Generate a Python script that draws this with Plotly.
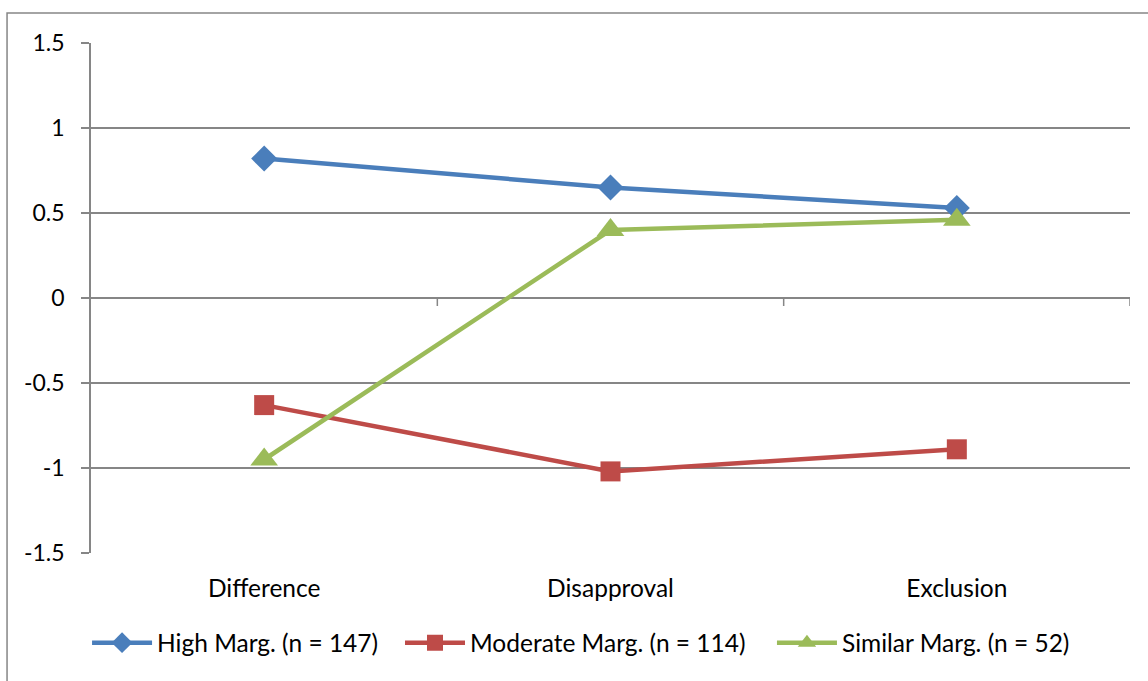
import plotly.graph_objects as go

# Category labels along the x axis
categories = ["Difference", "Disapproval", "Exclusion"]

# Mean scores per marginalization group
high_marg = [0.82, 0.65, 0.53]
moderate_marg = [-0.63, -1.02, -0.89]
similar_marg = [-0.95, 0.40, 0.46]

series_names = [
    "High Marg. (n = 147)",
    "Moderate Marg. (n = 114)",
    "Similar Marg. (n = 52)",
]

y_ticks = [-1.5, -1, -0.5, 0, 0.5, 1, 1.5]

GRID = "#868686"
FONT = "Lato, 'Open Sans', sans-serif"

fig = go.Figure()
styles = [
    (high_marg, series_names[0], "#4A7EBB", "diamond", 20, "legend"),
    (moderate_marg, series_names[1], "#BE4B48", "square", 20, "legend2"),
    (similar_marg, series_names[2], "#9BBB59", "triangle-up", 24, "legend3"),
]
for values, name, color, symbol, size, leg in styles:
    fig.add_trace(go.Scatter(
        x=categories,
        y=values,
        name=name,
        mode="lines+markers",
        line=dict(color=color, width=4.5),
        marker=dict(symbol=symbol, size=size, color=color),
        legend=leg,
    ))

# Category separator ticks hanging below the zero line
for xpos in [0.5, 1.5, 2.5]:
    fig.add_shape(
        type="line", xref="x", yref="y",
        x0=xpos, x1=xpos, ysizemode="pixel", yanchor=0, y0=0, y1=-8,
        line=dict(color=GRID, width=1.5),
    )

# Outer chart frame
fig.add_shape(
    type="rect", xref="paper", yref="paper",
    x0=-0.0808, x1=1.2, y0=-0.5, y1=1.0588,
    line=dict(color=GRID, width=1.5), fillcolor="rgba(0,0,0,0)",
    layer="below",
)


def legend_box(xpos):
    return dict(
        orientation="h",
        x=xpos, xanchor="left",
        y=-0.176, yanchor="middle",
        font=dict(size=24.5),
        itemwidth=60,
        bgcolor="rgba(0,0,0,0)",
    )


fig.update_layout(
    width=1148,
    height=681,
    margin=dict(l=91, r=18, t=43, b=128),
    paper_bgcolor="white",
    plot_bgcolor="white",
    font=dict(family=FONT, size=24, color="#000000"),
    showlegend=True,
    legend=legend_box(-0.0038),
    legend2=legend_box(0.2974),
    legend3=legend_box(0.6554),
    xaxis=dict(
        range=[-0.5, 2.5],
        showgrid=False,
        showline=False,
        zeroline=False,
        ticks="",
        ticklabelstandoff=18,
        tickfont=dict(size=24.5),
    ),
    yaxis=dict(
        range=[-1.5, 1.5],
        tickvals=y_ticks,
        ticktext=[str(v) if v != int(v) else str(int(v)) for v in y_ticks],
        showgrid=True,
        gridcolor=GRID,
        gridwidth=1.5,
        zeroline=True,
        zerolinecolor=GRID,
        zerolinewidth=2,
        showline=True,
        linecolor=GRID,
        linewidth=1.5,
        ticks="outside",
        ticklen=8,
        tickcolor=GRID,
        tickwidth=1.5,
        ticklabelstandoff=12,
        tickfont=dict(size=23),
    ),
)

fig.write_html("out.html")
